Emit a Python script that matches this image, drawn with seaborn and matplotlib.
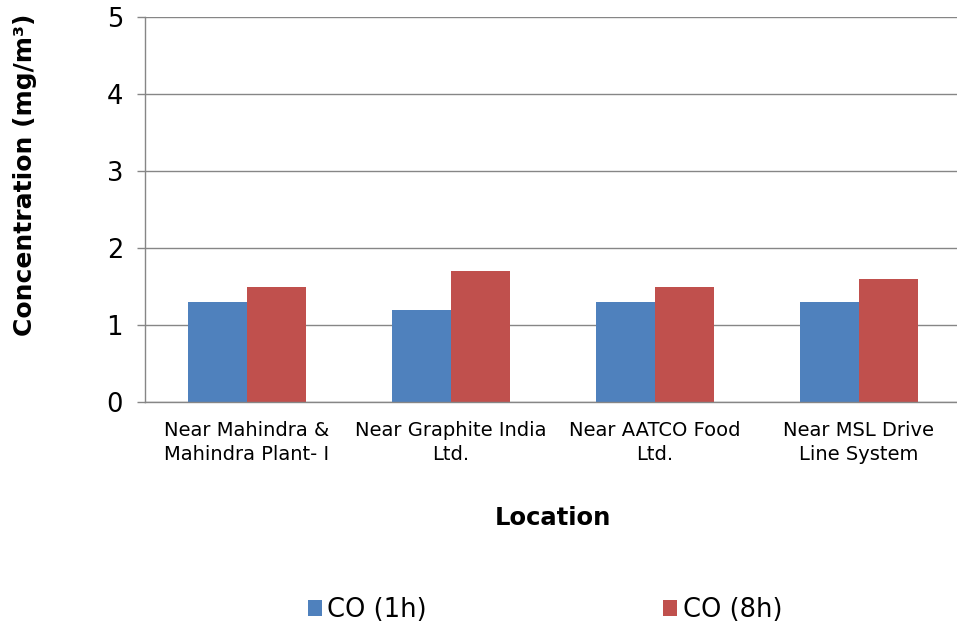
import matplotlib
matplotlib.use("Agg")
import matplotlib.pyplot as plt
import seaborn as sns
import pandas as pd
from matplotlib.patches import Patch

locations = ["Near Mahindra &\nMahindra Plant- I", "Near Graphite India\nLtd.",
             "Near AATCO Food\nLtd.", "Near MSL Drive\nLine System"]
co_1h = [1.3, 1.2, 1.3, 1.3]
co_8h = [1.5, 1.7, 1.5, 1.6]
series = ["CO (1h)", "CO (8h)"]
colors = ["#4F81BD", "#C0504D"]

df = pd.DataFrame({
    "Location": locations * 2,
    "Value": co_1h + co_8h,
    "Series": [series[0]] * 4 + [series[1]] * 4,
})

sns.set_theme(style="white")
plt.rcParams['font.family'] = ['DejaVu Sans']
plt.rcParams['text.color'] = 'black'

W, H = 957, 628
fig = plt.figure(figsize=(W / 100, H / 100), dpi=100)
ax = fig.add_axes([145 / W, 1 - 402 / H, (957 - 145) / W, (402 - 17) / H])

sns.barplot(data=df, x="Location", y="Value", hue="Series", palette=colors,
            width=0.574, gap=0, dodge=True, ax=ax, legend=False, saturation=1,
            linewidth=0)

grid_c = "#868686"
ax.set_ylim(0, 5)
ax.set_xlim(-0.5, -0.5 + (957 - 145) / 204)
ax.set_yticks([0, 1, 2, 3, 4, 5])
ax.yaxis.grid(True, color=grid_c, linewidth=1.0)
ax.set_axisbelow(True)
for s in ["top", "right"]:
    ax.spines[s].set_visible(False)
for s in ["left", "bottom"]:
    ax.spines[s].set_color(grid_c)
    ax.spines[s].set_linewidth(1.0)
ax.tick_params(axis="y", which="both", left=True, length=5.8, width=1.0, color=grid_c,
               labelsize=18.5, pad=10, labelcolor="black")
ax.tick_params(axis="x", bottom=False, labelsize=14, pad=8, labelcolor="black")
for lbl in ax.get_xticklabels():
    lbl.set_linespacing(1.3)
ax.set_xlabel("")
ax.set_ylabel("")

fig.text(553 / W, 1 - 518 / H, "Location", ha="center", va="center",
         fontsize=17.5, fontweight="bold", color="black")
fig.text(25 / W, 1 - 175 / H, "Concentration (mg/m³)", ha="center", va="center",
         rotation=90, fontsize=18, fontweight="bold", color="black")

handles = [Patch(facecolor=c, edgecolor="none") for c in colors]
leg = fig.legend(handles, series, loc="center", bbox_to_anchor=(545 / W, 1 - 610 / H),
                 ncol=2, frameon=False, fontsize=18.5, handlelength=0.55, handleheight=0.55,
                 handletextpad=0.2, columnspacing=9.2)
for t in leg.get_texts():
    t.set_color("black")

fig.savefig("out.png", dpi=100)
